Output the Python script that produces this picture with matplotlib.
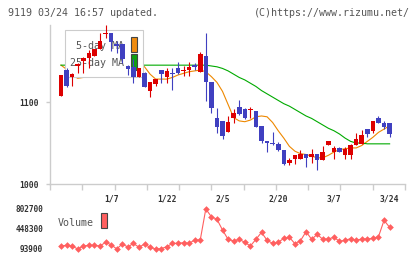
"""
9119 daily candlestick chart with 5/25-day MA and volume (rizumu style).
Output: out.png
"""

import numpy as np
import matplotlib.pyplot as plt
from matplotlib.patches import Rectangle

plt.rcParams['font.family'] = 'DejaVu Sans Mono'

# ---- data ----
opens = [1107, 1139, 1130, 1144, 1150, 1154, 1156, 1165, 1183, 1184,
         1171, 1171, 1144, 1143, 1131, 1135, 1113, 1122, 1139, 1131,
         1136, 1141, 1138, 1139, 1145, 1137, 1156, 1125, 1080, 1077,
         1064, 1081, 1094, 1092, 1090, 1089, 1071, 1052, 1050, 1049,
         1041, 1026, 1030, 1031, 1037, 1033, 1037, 1029, 1048, 1039,
         1044, 1035, 1035, 1048, 1049, 1067, 1065, 1080, 1074, 1074]
closes = [1133, 1120, 1134, 1146, 1154, 1160, 1165, 1175, 1184, 1173,
          1168, 1152, 1140, 1131, 1141, 1118, 1124, 1128, 1134, 1138,
          1134, 1135, 1139, 1143, 1143, 1159, 1124, 1093, 1070, 1059,
          1076, 1087, 1085, 1081, 1092, 1070, 1052, 1050, 1049, 1041,
          1025, 1029, 1035, 1037, 1032, 1037, 1029, 1039, 1052, 1044,
          1039, 1043, 1047, 1055, 1060, 1061, 1077, 1075, 1070, 1061]
highs = [1133, 1142, 1135, 1148, 1155, 1164, 1165, 1184, 1194, 1184,
         1175, 1171, 1145, 1152, 1141, 1137, 1124, 1128, 1139, 1141,
         1141, 1149, 1144, 1149, 1148, 1161, 1184, 1125, 1093, 1077,
         1083, 1091, 1103, 1093, 1094, 1089, 1071, 1052, 1063, 1051,
         1041, 1032, 1035, 1041, 1037, 1043, 1037, 1046, 1053, 1046,
         1045, 1045, 1049, 1062, 1066, 1067, 1077, 1083, 1077, 1074]
lows = [1107, 1118, 1119, 1135, 1135, 1141, 1156, 1165, 1178, 1162,
        1160, 1148, 1133, 1123, 1131, 1118, 1106, 1119, 1123, 1123,
        1115, 1134, 1132, 1132, 1139, 1137, 1101, 1087, 1062, 1055,
        1064, 1075, 1084, 1079, 1081, 1070, 1050, 1039, 1048, 1040,
        1023, 1023, 1024, 1031, 1021, 1026, 1017, 1029, 1047, 1030,
        1039, 1030, 1030, 1048, 1049, 1057, 1062, 1075, 1067, 1057]

ma5 = [1145, 1140, 1133, 1129, 1130, 1140, 1150, 1158, 1166, 1170,
       1172, 1169, 1163, 1154, 1148, 1143, 1134, 1128, 1128, 1128,
       1130, 1133, 1135, 1137, 1138, 1139, 1137, 1131, 1124, 1113,
       1097, 1081, 1077, 1076, 1078, 1082, 1083, 1082, 1075, 1065,
       1056, 1046, 1040, 1037, 1036, 1034, 1032, 1032, 1035, 1039,
       1042, 1043, 1044, 1044, 1047, 1052, 1057, 1063, 1067, 1071]
ma25 = [1145, 1145, 1145, 1145, 1145, 1145, 1145, 1145, 1145, 1145,
        1145, 1145, 1145, 1145, 1145, 1145, 1145, 1145, 1145, 1145,
        1145, 1145, 1145, 1145, 1145, 1145, 1145, 1144, 1143, 1141,
        1138, 1134, 1130, 1127, 1123, 1119, 1114, 1110, 1106, 1102,
        1098, 1095, 1091, 1087, 1083, 1080, 1076, 1072, 1068, 1065,
        1061, 1056, 1052, 1050, 1050, 1049, 1049, 1049, 1049, 1049]

volume = [147000, 159000, 147000, 93900, 147000, 159000, 159000, 147000, 212000, 170000,
          95000, 182000, 129000, 194000, 124000, 182000, 124000, 94500, 100000, 135000,
          194000, 194000, 206000, 194000, 253000, 253000, 802700, 666000, 620000, 431000,
          265000, 236000, 265000, 212000, 147000, 265000, 389000, 248000, 194000, 212000,
          283000, 301000, 188000, 242000, 401000, 265000, 354000, 265000, 271000, 301000,
          230000, 248000, 277000, 248000, 271000, 271000, 283000, 312000, 602000, 478000]

date_pos = [9, 19, 29, 39, 49, 59]
date_labels = ['1/7', '1/22', '2/5', '2/20', '3/7', '3/24']
vol_ticks = [93900, 448300, 802700]

UP = '#dd0000'
DOWN = '#4040c0'
GRAY = '#cccccc'
TXT = '#555555'

W, H = 420, 259
fig = plt.figure(figsize=(W / 100, H / 100), dpi=100)

x = np.arange(len(opens))
o = np.array(opens, float)
c = np.array(closes, float)
xlim = (-1.97, 61.76)

# ---- price panel ----
ax = fig.add_axes([50 / W, 1 - 184 / H, 355 / W, 159 / H])
ax.set_xlim(*xlim)
ax.set_ylim(1000, 1194)

ax.plot(x, ma5, color='#ee8800', lw=0.8, zorder=2)
ax.plot(x, ma25, color='#00aa00', lw=0.8, zorder=2)

# legend box sits over the MA lines but under the candles
ax.add_patch(Rectangle((0.0423, 0.673), 0.2197, 0.2956, transform=ax.transAxes,
                       facecolor='white', edgecolor=GRAY, lw=0.8, zorder=3))
ax.text(0.2085, 0.868, '5-day MA', transform=ax.transAxes, ha='right',
        va='center', fontsize=7.2, color=TXT, zorder=3.5)
ax.text(0.2085, 0.764, '25-day MA', transform=ax.transAxes, ha='right',
        va='center', fontsize=7.2, color=TXT, zorder=3.5)
ax.add_patch(Rectangle((0.228, 0.830), 0.017, 0.0945, transform=ax.transAxes,
                       facecolor='#f08c10', edgecolor='#444444', lw=0.8, zorder=3.5))
ax.add_patch(Rectangle((0.228, 0.717), 0.017, 0.101, transform=ax.transAxes,
                       facecolor='#10a010', edgecolor='#444444', lw=0.8, zorder=3.5))

colors = [UP if cc >= oo else DOWN for oo, cc in zip(o, c)]
ax.vlines(x, lows, highs, colors=colors, lw=0.8, zorder=4)
body = np.maximum(np.abs(c - o), 1.3)
ax.bar(x, body, bottom=np.minimum(o, c), width=0.82, color=colors,
       linewidth=0, zorder=4.5)

for s in ('top', 'right'):
    ax.spines[s].set_visible(False)
for s in ('left', 'bottom'):
    ax.spines[s].set_color(GRAY)
    ax.spines[s].set_linewidth(1)

ax.set_xticks(np.linspace(xlim[0], xlim[1], 12))
ax.set_xticklabels([])
ax.tick_params(axis='x', length=4, color=GRAY, width=1)
ax.set_yticks([1000, 1100])
ax.set_yticklabels(['1000', '1100'])
ax.tick_params(axis='y', length=3, color=GRAY, width=1, pad=5,
               labelsize=5.8, labelcolor='#333333')
for t in ax.get_yticklabels():
    t.set_fontweight('bold')

for p, lab in zip(date_pos, date_labels):
    ax.text(p, -0.094, lab, transform=ax.get_xaxis_transform(), ha='center',
            va='center', fontsize=5.8, color='#333333', fontweight='bold')

# ---- volume panel ----
vx = fig.add_axes([50 / W, 1 - 253 / H, 355 / W, 48 / H])
vx.set_xlim(*xlim)
vx.set_ylim(93900 - 4 * 17720, 802700 + 4 * 17720)
vx.plot(x, volume, color='#ff5f5f', lw=0.8, marker='D', ms=3.4,
        markeredgewidth=0)
for s in vx.spines.values():
    s.set_visible(False)
vx.set_xticks([])
vx.set_yticks(vol_ticks)
vx.set_yticklabels([str(v) for v in vol_ticks])
vx.tick_params(axis='y', length=0, pad=5, labelsize=5.6, labelcolor='#333333')
for t in vx.get_yticklabels():
    t.set_fontweight('bold')
vx.text(0.0225, 0.635, 'Volume', transform=vx.transAxes, ha='left',
        va='center', fontsize=7.2, color=TXT)
vx.add_patch(Rectangle((0.1437, 0.515), 0.0169, 0.325, transform=vx.transAxes,
                       facecolor='#ff5f5f', edgecolor='#444444', lw=0.8))

# ---- header texts ----
fig.text(8 / W, 1 - 12.5 / H, '9119 03/24 16:57 updated.', ha='left',
         va='center', fontsize=7.2, color=TXT)
fig.text(410 / W, 1 - 12.5 / H, '(C)https://www.rizumu.net/', ha='right',
         va='center', fontsize=7.2, color=TXT)

fig.savefig('out.png', dpi=100)
